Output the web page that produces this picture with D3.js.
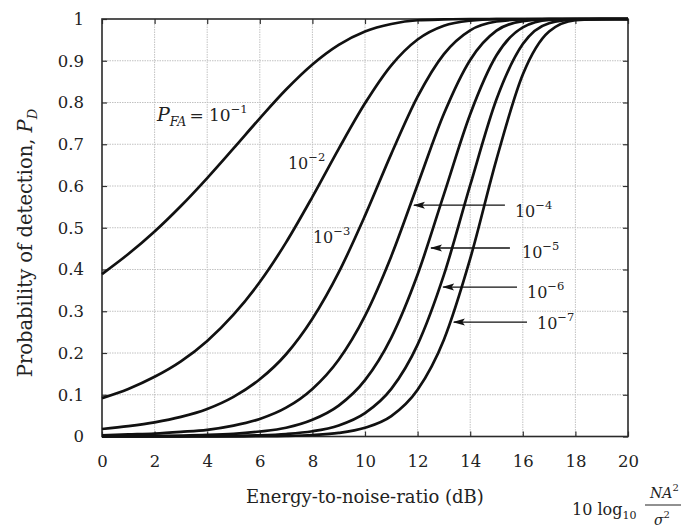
<!DOCTYPE html>
<html>
<head>
<meta charset="utf-8">
<script src="https://cdn.jsdelivr.net/npm/d3@7/dist/d3.min.js"></script>
<style>
  html, body { margin: 0; padding: 0; background: #fff; }
  svg { display: block; }
  text { font-family: "DejaVu Serif", "Liberation Serif", serif; fill: #222; }
</style>
</head>
<body>
<div id="chart"></div>
<script>

// Energy-to-noise ratio, dB (x axis)
var snrDb = [0, 1, 2, 3, 4, 5, 6, 7, 8, 9, 10, 11, 12, 13, 14, 15, 16, 17, 18, 19, 20];

// Probability of detection, one array per P_FA
var pdFa1 = [0.389, 0.437, 0.491, 0.552, 0.619, 0.690, 0.762, 0.831, 0.891, 0.938, 0.970, 0.988, 0.997, 0.999, 1, 1, 1, 1, 1, 1, 1];
var pdFa2 = [0.092, 0.114, 0.143, 0.180, 0.229, 0.292, 0.370, 0.465, 0.574, 0.689, 0.798, 0.889, 0.951, 0.984, 0.996, 0.9995, 1, 1, 1, 1, 1];
var pdFa3 = [0.018, 0.025, 0.034, 0.047, 0.066, 0.095, 0.137, 0.197, 0.282, 0.393, 0.529, 0.677, 0.814, 0.916, 0.973, 0.994, 0.999, 1, 1, 1, 1];
var pdFa4 = [0.003, 0.005, 0.007, 0.011, 0.016, 0.026, 0.042, 0.069, 0.114, 0.184, 0.289, 0.432, 0.603, 0.773, 0.902, 0.972, 0.995, 0.9996, 1, 1, 1];
var pdFa5 = [0.0005, 0.0008, 0.0013, 0.0022, 0.0037, 0.0065, 0.012, 0.021, 0.040, 0.074, 0.135, 0.237, 0.388, 0.580, 0.772, 0.913, 0.980, 0.998, 0.9999, 1, 1];
var pdFa6 = [0.0001, 0.0001, 0.0002, 0.0004, 0.0008, 0.0015, 0.0029, 0.006, 0.0125, 0.0265, 0.056, 0.114, 0.220, 0.387, 0.602, 0.808, 0.940, 0.990, 0.999, 1, 1];
var pdFa7 = [0, 0, 0, 0.0001, 0.0002, 0.0003, 0.0007, 0.0015, 0.0036, 0.0086, 0.021, 0.049, 0.112, 0.232, 0.426, 0.664, 0.867, 0.970, 0.997, 0.9999, 1];

// Tick labels
var xTicks = [0, 2, 4, 6, 8, 10, 12, 14, 16, 18, 20];
var yTicks = [0, 0.1, 0.2, 0.3, 0.4, 0.5, 0.6, 0.7, 0.8, 0.9, 1];
var yTickLabels = ["0", "0.1", "0.2", "0.3", "0.4", "0.5", "0.6", "0.7", "0.8", "0.9", "1"];

// P_FA exponent for each curve
var faExponents = ["−1", "−2", "−3", "−4", "−5", "−6", "−7"];

var curves = [pdFa1, pdFa2, pdFa3, pdFa4, pdFa5, pdFa6, pdFa7];

// Set the dimensions of the canvas / graph
var W = 681, H = 528;
var margin = {top: 19, right: 53, bottom: 91.5, left: 102},
    width = W - margin.left - margin.right,
    height = H - margin.top - margin.bottom;

var x = d3.scaleLinear().domain([0, 20]).range([0, width]);
var y = d3.scaleLinear().domain([0, 1]).range([height, 0]);

var svg = d3.select("#chart")
    .append("svg")
        .attr("width", W)
        .attr("height", H);

var g = svg.append("g")
    .attr("transform", "translate(" + margin.left + "," + margin.top + ")");

// Dotted grid
g.append("g").attr("class", "grid")
    .selectAll("line.gx")
    .data(xTicks.slice(1, -1))
    .enter().append("line")
        .attr("x1", function(d) { return x(d); })
        .attr("x2", function(d) { return x(d); })
        .attr("y1", 0).attr("y2", height);

g.select(".grid")
    .selectAll("line.gy")
    .data(yTicks.slice(1, -1))
    .enter().append("line")
        .attr("x1", 0).attr("x2", width)
        .attr("y1", function(d) { return y(d); })
        .attr("y2", function(d) { return y(d); });

g.selectAll(".grid line")
    .attr("stroke", "#c2c2c2")
    .attr("stroke-width", 1)
    .attr("stroke-dasharray", "1.5,1");

// Axes with inward ticks on all four sides
var tk = 5;
g.append("g")
    .attr("transform", "translate(0," + height + ")")
    .call(d3.axisBottom(x).tickValues(xTicks).tickSize(-tk).tickPadding(tk + 14).tickFormat(d3.format("d")));
g.append("g")
    .call(d3.axisTop(x).tickValues(xTicks).tickSize(-tk).tickFormat(""));
g.append("g")
    .call(d3.axisLeft(y).tickValues(yTicks).tickSize(-tk).tickPadding(tk + 13)
        .tickFormat(function(d, i) { return yTickLabels[i]; }));
g.append("g")
    .attr("transform", "translate(" + width + ",0)")
    .call(d3.axisRight(y).tickValues(yTicks).tickSize(-tk).tickFormat(""));

g.selectAll(".domain").remove();
g.selectAll(".tick line").attr("stroke", "#333").attr("stroke-width", 1.2);
g.selectAll(".tick text")
    .attr("fill", "#222")
    .style("font-family", "'DejaVu Serif', serif")
    .style("font-size", "16.5px");

// Frame
g.append("rect")
    .attr("x", 0).attr("y", 0)
    .attr("width", width).attr("height", height)
    .attr("fill", "none")
    .attr("stroke", "#2a2a2a")
    .attr("stroke-width", 1.6);

// Detection curves
var line = d3.line()
    .x(function(d, i) { return x(snrDb[i]); })
    .y(function(d) { return y(d); })
    .curve(d3.curveMonotoneX);

g.append("g").selectAll("path")
    .data(curves)
    .enter().append("path")
        .attr("d", line)
        .attr("fill", "none")
        .attr("stroke", "#111")
        .attr("stroke-width", 2.7)
        .attr("stroke-linejoin", "round");

// Curve labels, in data units: text start (dB, P_D), optional arrow tip / tail
var labels = [
    {tx: 2.09, ty: 0.756, pfa: true},
    {tx: 7.07, ty: 0.641},
    {tx: 8.02, ty: 0.4635},
    {tx: 15.70, ty: 0.526, ax: 11.86, ay: 0.554, tail: 15.32},
    {tx: 15.97, ty: 0.4275, ax: 12.51, ay: 0.4515, tail: 15.51},
    {tx: 16.16, ty: 0.332, ax: 12.97, ay: 0.358, tail: 15.78},
    {tx: 16.54, ty: 0.2575, ax: 13.38, ay: 0.274, tail: 16.16}
];

// arrow head, drawn pointing along the line direction
svg.append("defs").append("marker")
    .attr("id", "head")
    .attr("viewBox", "0 0 12 8")
    .attr("refX", 11).attr("refY", 4)
    .attr("markerWidth", 12).attr("markerHeight", 8)
    .attr("markerUnits", "userSpaceOnUse")
    .attr("orient", "auto")
  .append("path")
    .attr("d", "M0,0.5 L12,4 L0,7.5 L2.5,4 Z")
    .attr("fill", "#111");

labels.forEach(function(lb, i) {
    if (lb.ax !== undefined) {
        g.append("line")
            .attr("x1", x(lb.tail)).attr("y1", y(lb.ay))
            .attr("x2", x(lb.ax)).attr("y2", y(lb.ay))
            .attr("stroke", "#111")
            .attr("stroke-width", 1.3)
            .attr("marker-end", "url(#head)");
    }
    var t = g.append("text")
        .attr("x", x(lb.tx))
        .attr("y", y(lb.ty))
        .style("font-size", "16px");
    if (lb.pfa) {
        t.style("font-size", "17px");
        t.append("tspan").style("font-style", "italic").style("font-size", "19px").text("P");
        t.append("tspan").style("font-style", "italic").style("font-size", "12.5px")
            .attr("dy", 5).text("FA");
        t.append("tspan").attr("dy", -5).attr("dx", 3).text("= ");
    }
    t.append("tspan").text("10");
    t.append("tspan").attr("dy", -8).style("font-size", "11.5px").text(faExponents[i]);
});

// Axis titles
svg.append("text")
    .attr("x", margin.left + width / 2)
    .attr("y", 503)
    .attr("text-anchor", "middle")
    .style("font-size", "18px")
    .text("Energy-to-noise-ratio (dB)");

var yt = svg.append("text")
    .attr("transform", "translate(32," + 243 + ") rotate(-90)")
    .attr("text-anchor", "middle")
    .style("font-size", "19.5px");
yt.append("tspan").text("Probability of detection, ");
yt.append("tspan").style("font-style", "italic").text("P");
yt.append("tspan").style("font-style", "italic").style("font-size", "13px").attr("dy", 5).text("D");

// 10 log10 (N A^2 / sigma^2) in the lower right corner
var unit = svg.append("g");
var u1 = unit.append("text").attr("x", 572).attr("y", 515).style("font-size", "16px");
u1.append("tspan").text("10 log");
u1.append("tspan").attr("dy", 4).style("font-size", "11px").text("10");
unit.append("line")
    .attr("x1", 645).attr("x2", 681)
    .attr("y1", 505).attr("y2", 505)
    .attr("stroke", "#222").attr("stroke-width", 1);
var u2 = unit.append("text").attr("x", 650).attr("y", 498).style("font-size", "14px");
u2.append("tspan").style("font-style", "italic").text("NA");
u2.append("tspan").attr("dy", -7).style("font-size", "10px").text("2");
var u3 = unit.append("text").attr("x", 654).attr("y", 525).style("font-size", "14px");
u3.append("tspan").style("font-style", "italic").text("σ");
u3.append("tspan").attr("dy", -7).style("font-size", "10px").text("2");

</script>
</body>
</html>
